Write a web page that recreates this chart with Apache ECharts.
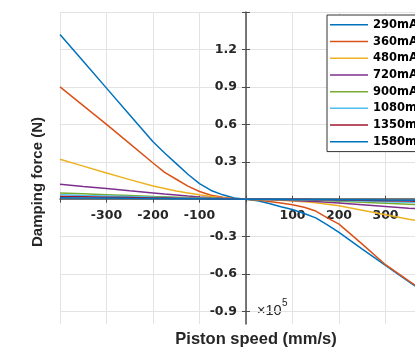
<!DOCTYPE html>
<html>
<head>
<meta charset="utf-8">
<script src="https://cdn.jsdelivr.net/npm/echarts@6/dist/echarts.min.js"></script>
<style>
html,body{margin:0;padding:0;background:#fff;}
#chart{width:415px;height:348px;}
</style>
</head>
<body>
<div id="chart"></div>
<script>
// ---- data ----
var speeds = [-400,-350,-300,-250,-200,-175,-150,-125,-100,-75,-50,-25,0,25,50,75,100,125,150,175,200,250,300,350,400];
var seriesNames = ['290mA','360mA','480mA','720mA','900mA','1080mA','1350mA','1580mA'];
var f290  = [1.32,1.105,0.89,0.675,0.46,0.37,0.285,0.2,0.125,0.07,0.035,0.01,0,-0.012,-0.035,-0.06,-0.083,-0.115,-0.15,-0.205,-0.265,-0.40,-0.53,-0.66,-0.79];
var f360  = [0.90,0.75,0.60,0.445,0.29,0.215,0.16,0.105,0.062,0.032,0.015,0.004,0,-0.006,-0.018,-0.03,-0.045,-0.065,-0.095,-0.15,-0.20,-0.36,-0.525,-0.655,-0.78];
var f480  = [0.32,0.265,0.21,0.157,0.105,0.085,0.065,0.05,0.035,0.022,0.012,0.004,0,-0.002,-0.005,-0.009,-0.014,-0.02,-0.028,-0.04,-0.052,-0.088,-0.124,-0.16,-0.195];
var f720  = [0.12,0.102,0.085,0.067,0.05,0.041,0.033,0.025,0.018,0.012,0.007,0.003,0,-0.002,-0.004,-0.007,-0.01,-0.014,-0.019,-0.025,-0.031,-0.044,-0.058,-0.072,-0.085];
var f900  = [0.05,0.043,0.036,0.029,0.022,0.019,0.016,0.013,0.01,0.007,0.004,0.002,0,-0.002,-0.003,-0.004,-0.005,-0.007,-0.009,-0.012,-0.016,-0.024,-0.032,-0.04,-0.048];
var f1080 = [0.035,0.03,0.026,0.021,0.016,0.014,0.012,0.009,0.007,0.005,0.003,0.001,0,-0.001,-0.002,-0.003,-0.004,-0.005,-0.006,-0.008,-0.01,-0.015,-0.02,-0.025,-0.03];
var f1350 = [0.022,0.019,0.016,0.013,0.01,0.009,0.008,0.006,0.005,0.003,0.002,0.001,0,-0.001,-0.001,-0.002,-0.002,-0.003,-0.004,-0.005,-0.006,-0.009,-0.012,-0.015,-0.018];
var f1580 = [0.012,0.01,0.009,0.007,0.006,0.005,0.004,0.003,0.003,0.002,0.001,0.001,0,-0.001,-0.001,-0.001,-0.002,-0.002,-0.003,-0.003,-0.004,-0.005,-0.007,-0.008,-0.01];
var colors = ['#0072BD','#D95319','#EDB120','#7E2F8E','#77AC30','#4DBEEE','#A2142F','#0072BD'];
var xTickLabels = [-300,-200,-100,100,200,300];
var yTicks = [-0.9,-0.6,-0.3,0,0.3,0.6,0.9,1.2,1.5];
var yTickLabels = [-0.9,-0.6,-0.3,0.3,0.6,0.9,1.2];

var allForces = [f290,f360,f480,f720,f900,f1080,f1350,f1580];

var chart = echarts.init(document.getElementById('chart'), null, {renderer:'canvas'});
var tickFont = {fontFamily:'DejaVu Sans', fontWeight:'bold', fontSize:12.5, color:'#262626'};

var gridLeft = 60, gridTop = 12, gridW = 372, gridH = 312;
var xMin = -400, xMax = 400, yMin = -1, yMax = 1.5;
// shift axes so they cross at the origin
var yAxisOffset = -gridW * (0 - xMin) / (xMax - xMin);
var xAxisOffset = -gridH * (0 - yMin) / (yMax - yMin);

var series = allForces.map(function(arr, i){
  return {
    name: seriesNames[i],
    type: 'line',
    symbol: 'none',
    showSymbol: false,
    smooth: false,
    animation: false,
    xAxisIndex: 0, yAxisIndex: 0,
    data: speeds.map(function(s, j){ return [s, arr[j]]; }),
    lineStyle: {width:1.5, color: colors[i]},
    itemStyle: {color: colors[i]},
    z: 3
  };
});

function xAxisCfg(inside, main){
  return {
    type:'value', min:xMin, max:xMax, interval:100, position:'bottom', offset:xAxisOffset,
    axisLine:{show:main, onZero:false, lineStyle:{color:'#4d4d4d', width:1.5}},
    axisTick:{show:true, inside:inside, length:3.5, lineStyle:{color:'#4d4d4d'}},
    axisLabel: Object.assign({show:main, margin:10, formatter:function(v){ return xTickLabels.indexOf(v) >= 0 ? String(v) : ''; }}, tickFont),
    splitLine:{show:main, lineStyle:{color:'#e3e3e3', width:1}}
  };
}
function yAxisCfg(inside, main){
  return {
    type:'value', min:yMin, max:yMax, position:'left', offset:yAxisOffset,
    axisLine:{show:main, onZero:false, lineStyle:{color:'#4d4d4d', width:1.5}},
    axisTick:{show:true, inside:inside, length:4, customValues: yTicks, lineStyle:{color:'#4d4d4d'}},
    axisLabel: Object.assign({show:main, margin:9, customValues: yTickLabels, formatter:function(v){ return v.toFixed(1); }}, tickFont),
    splitLine:{show:main, lineStyle:{color:'#e3e3e3', width:1}}
  };
}

chart.setOption({
  animation: false,
  backgroundColor: '#fff',
  color: colors,
  grid: {left:gridLeft, top:gridTop, width:gridW, height:gridH, containLabel:false, outerBoundsMode:'none'},
  xAxis: [xAxisCfg(false, true), xAxisCfg(true, false)],
  yAxis: [yAxisCfg(false, true), yAxisCfg(true, false)],
  legend: {
    orient:'vertical', left:327, top:15,
    padding:[1.5,40,1.5,3],
    itemGap:0, itemWidth:38, itemHeight:1.5, icon:'rect',
    backgroundColor:'#fff', borderColor:'#333', borderWidth:1,
    textStyle:{fontFamily:'DejaVu Sans', fontWeight:'bold', fontSize:11.5, color:'#000', lineHeight:16.7},
    data: seriesNames
  },
  graphic: [
    {type:'text', x:256, y:339, style:{text:'Piston speed (mm/s)', fontFamily:'Liberation Sans', fontWeight:'bold', fontSize:16.5, fill:'#262626', align:'center', verticalAlign:'middle'}},
    {type:'text', x:38, y:182, rotation:Math.PI/2, style:{text:'Damping force (N)', fontFamily:'Liberation Sans', fontWeight:'bold', fontSize:15, fill:'#262626', align:'center', verticalAlign:'middle'}},
    {type:'text', x:257, y:311, style:{text:'×10', fontFamily:'Liberation Sans', fontSize:14.5, fill:'#262626', align:'left', verticalAlign:'middle'}},
    {type:'text', x:282, y:303, style:{text:'5', fontFamily:'Liberation Sans', fontSize:10, fill:'#262626', align:'left', verticalAlign:'middle'}}
  ],
  series: series
});
</script>
</body>
</html>
